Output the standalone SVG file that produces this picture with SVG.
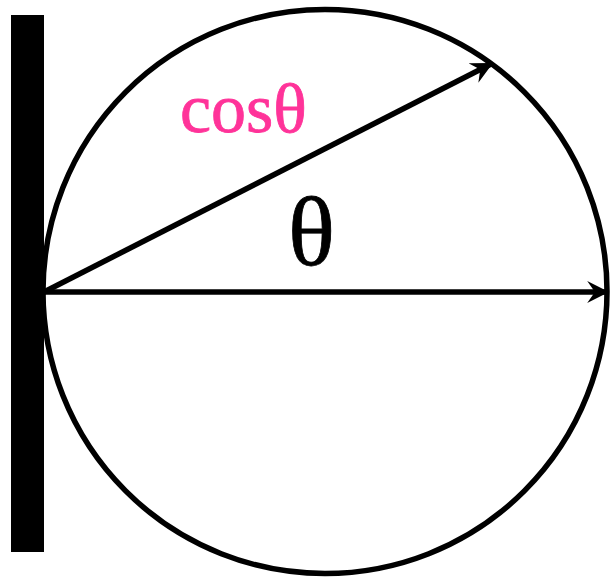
<svg xmlns="http://www.w3.org/2000/svg" width="610" height="577" viewBox="0 0 610 577">
<defs>
<style>
.ln{stroke:#000;stroke-width:5.5;fill:none}
.txt{font-family:"Liberation Serif","Times New Roman",serif}
</style>
<marker id="ah" viewBox="0 0 10 10" refX="9" refY="5" markerWidth="4" markerHeight="4" orient="auto" markerUnits="strokeWidth">
<path d="M0,0 L10,5 L0,10 L3.5,5 Z" fill="#000"/>
</marker>
</defs>
<rect width="610" height="577" fill="#fff"/>
<g id="wall"><rect x="11" y="15" width="33" height="537" fill="#000"/></g>
<g id="circle"><circle cx="325" cy="291.5" r="282" class="ln"/></g>
<g id="connectors">
<line x1="44" y1="292" x2="607" y2="292" class="ln" marker-end="url(#ah)"/>
<line x1="44" y1="292" x2="491" y2="64" class="ln" marker-end="url(#ah)"/>
</g>
<g id="label-cos"><text x="180" y="132" class="txt" font-size="70" fill="#ff3399" stroke="#ff3399" stroke-width="0.8">cosθ</text></g>
<g id="label-theta"><text x="288" y="265" class="txt" font-size="98" fill="#000" stroke="#000" stroke-width="0.8">θ</text></g>
</svg>
